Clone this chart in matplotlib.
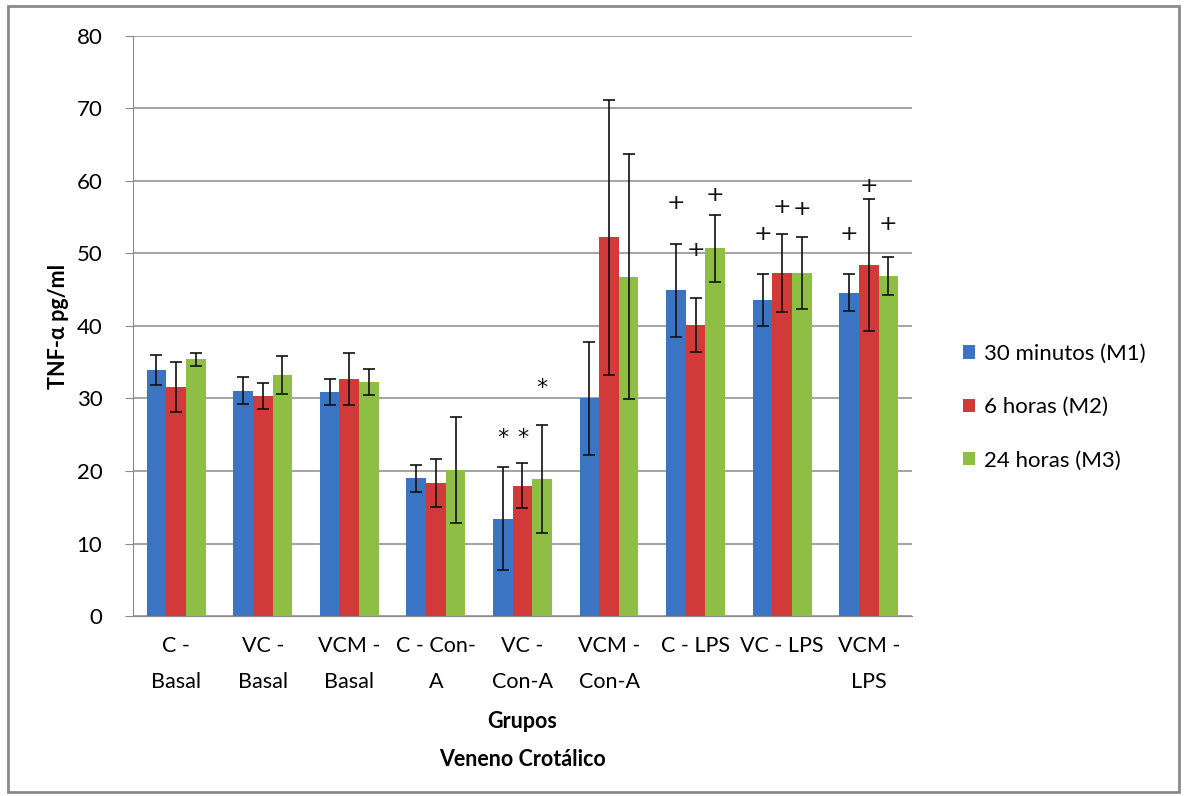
import numpy as np
import matplotlib
matplotlib.use('Agg')
import matplotlib.pyplot as plt
from matplotlib.patches import Rectangle

plt.rcParams['font.family'] = ['Lato', 'DejaVu Sans']

groups = ['C -\nBasal', 'VC -\nBasal', 'VCM -\nBasal', 'C - Con-\nA', 'VC -\nCon-A',
          'VCM -\nCon-A', 'C - LPS', 'VC - LPS', 'VCM -\nLPS']
series = ['30 minutos (M1)', '6 horas (M2)', '24 horas (M3)']

m1 = [33.9, 31.1, 30.9, 19.0, 13.4, 30.0, 44.9, 43.6, 44.6]
m2 = [31.6, 30.4, 32.7, 18.4, 18.0, 52.2, 40.1, 47.3, 48.4]
m3 = [35.4, 33.2, 32.3, 20.1, 18.9, 46.8, 50.7, 47.3, 46.9]

m1_err = [2.1, 1.9, 1.8, 1.9, 7.1, 7.8, 6.4, 3.6, 2.6]
m2_err = [3.5, 1.8, 3.6, 3.3, 3.1, 18.9, 3.7, 5.4, 9.1]
m3_err = [0.9, 2.6, 1.8, 7.3, 7.4, 16.9, 4.6, 5.0, 2.6]

# significance marks: (group, series, symbol, height)
marks = [
    (4, 0, '*', 24.6), (4, 1, '*', 24.6), (4, 2, '*', 31.4),
    (6, 0, '+', 57.0), (6, 1, '+', 50.5), (6, 2, '+', 58.0),
    (7, 0, '+', 52.7), (7, 1, '+', 56.4), (7, 2, '+', 56.1),
    (8, 0, '+', 52.7), (8, 1, '+', 59.3), (8, 2, '+', 54.0),
]

colors = ['#3C74C4', '#D23A3A', '#8FBE45']

fig = plt.figure(figsize=(11.86, 7.96), dpi=100)
ax = fig.add_axes([0.112, 0.226, 0.657, 0.729])

x = np.arange(len(groups))
w = 0.227
offsets = [-w, 0, w]
values = [m1, m2, m3]
errors = [m1_err, m2_err, m3_err]

for i in range(3):
    ax.bar(x + offsets[i], values[i], w, color=colors[i], label=series[i], zorder=3)
    ax.errorbar(x + offsets[i], values[i], yerr=errors[i], fmt='none', ecolor='#111111',
                elinewidth=1.2, capsize=4, capthick=1.2, zorder=4)

for g, s, sym, h in marks:
    ax.text(x[g] + offsets[s], h, sym, ha='center', va='center', fontsize=16,
            family='DejaVu Sans', color='#111111', zorder=5)

ax.set_xlim(-0.5, len(groups) - 0.5)
ax.set_ylim(0, 80)
ax.set_yticks(range(0, 81, 10))
ax.yaxis.grid(True, color='#8a8a8a', linewidth=1.1, zorder=0)
ax.set_axisbelow(True)
for side in ['top', 'right']:
    ax.spines[side].set_visible(False)
ax.spines['left'].set_color('#8a8a8a')
ax.spines['bottom'].set_color('#8a8a8a')
ax.tick_params(axis='y', direction='out', length=6, color='#8a8a8a', labelsize=16, pad=16)
ax.tick_params(axis='x', length=0, labelsize=15.5, pad=14)
ax.set_xticks(x)
ax.set_xticklabels(groups, linespacing=2.0)

ax.set_ylabel('TNF-α pg/ml', fontsize=15.5, fontweight='bold', labelpad=5)
ax.set_xlabel('Grupos\nVeneno Crotálico', fontsize=15.5, fontweight='bold',
              labelpad=14, linespacing=2.0)

ax.legend(loc='center left', bbox_to_anchor=(1.04, 0.36), frameon=False, fontsize=16,
          handlelength=0.55, handleheight=0.55, handletextpad=0.4, labelspacing=1.5)

fig.patches.append(Rectangle((0.007, 0.005), 0.987, 0.988, transform=fig.transFigure,
                             fill=False, edgecolor='#8a8a8a', linewidth=2))

fig.savefig('out.png', dpi=100, facecolor='white')
